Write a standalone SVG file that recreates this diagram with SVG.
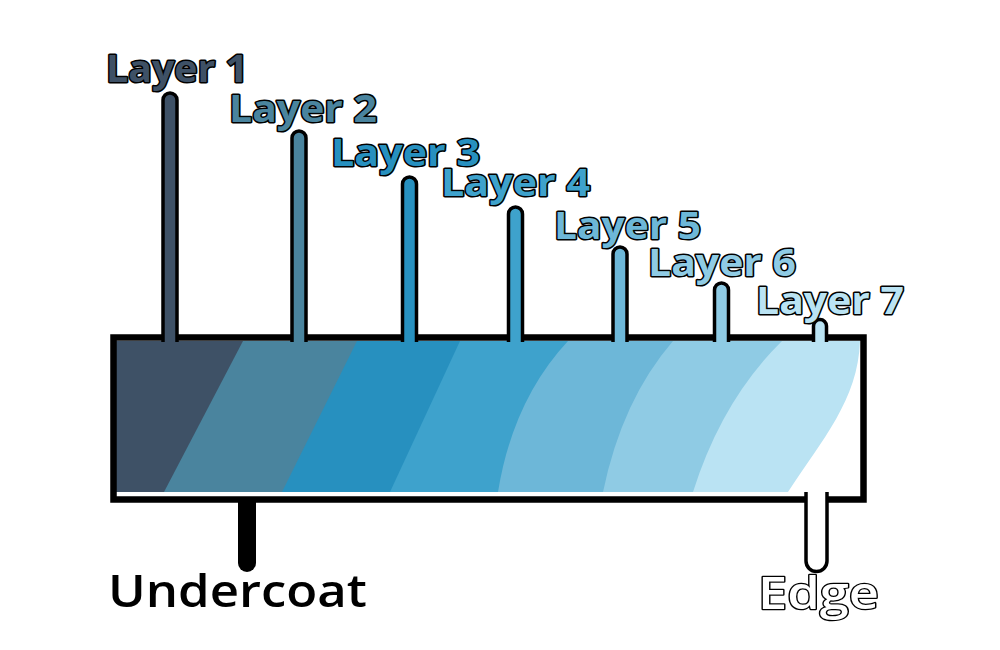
<svg xmlns="http://www.w3.org/2000/svg" width="1000" height="650" viewBox="0 0 1000 650">
<style>
.lbl{font-family:"Open Sans","Liberation Sans",sans-serif;font-weight:700;font-size:38px;stroke:#000;stroke-width:3;paint-order:stroke;stroke-linejoin:round}
.stem{stroke:#000;stroke-width:3.5}
.c1{fill:#3E5166}.c2{fill:#4A849E}.c3{fill:#2790BF}.c4{fill:#3EA2CC}.c5{fill:#6DB7D8}.c6{fill:#8FCBE4}.c7{fill:#BAE3F3}
</style>
<rect width="1000" height="650" fill="#fff"/>
<g id="bar">
<path class="c7" d="M116,341 H860 C858,400 822,440 788,492 H116 Z"/>
<path class="c6" d="M116,341 H782 Q722,400 693,492 H116 Z"/>
<path class="c5" d="M116,341 H673 Q622,400 603,492 H116 Z"/>
<path class="c4" d="M116,341 H568 Q513,400 498,492 H116 Z"/>
<path class="c3" d="M116,341 H460 L390,492 H116 Z"/>
<path class="c2" d="M116,341 H357 L282,492 H116 Z"/>
<path class="c1" d="M116,341 H243 L164,492 H116 Z"/>
<rect x="113.5" y="337.5" width="750" height="162" fill="none" stroke="#000" stroke-width="6.5"/>
</g>
<g id="connectors">
<path class="stem c1" d="M163,342 V100 A7,7 0 0 1 177,100 V342"/>
<path class="stem c2" d="M292,342 V138 A7,7 0 0 1 306,138 V342"/>
<path class="stem c3" d="M402.5,342 V184 A7,7 0 0 1 416.5,184 V342"/>
<path class="stem c4" d="M508.5,342 V214 A7,7 0 0 1 522.5,214 V342"/>
<path class="stem c5" d="M613,342 V254 A7,7 0 0 1 627,254 V342"/>
<path class="stem c6" d="M714.5,342 V290 A7,7 0 0 1 728.5,290 V342"/>
<path class="stem c7" d="M813.5,342 V326 A6.5,6.5 0 0 1 826.5,326 V342"/>
<path d="M238,500 V563 A9,9 0 0 0 256,563 V500 Z" fill="#000"/>
<path class="stem" fill="#fff" d="M806,492 V561 A10.5,10.5 0 0 0 827,561 V492"/>
</g>
<g id="layer1"><text class="lbl c1" x="106" y="82" textLength="142" lengthAdjust="spacingAndGlyphs">Layer 1</text></g>
<g id="layer2"><text class="lbl c2" x="229" y="122" textLength="148" lengthAdjust="spacingAndGlyphs">Layer 2</text></g>
<g id="layer3"><text class="lbl c3" x="331" y="166" textLength="149" lengthAdjust="spacingAndGlyphs">Layer 3</text></g>
<g id="layer4"><text class="lbl c4" x="441" y="196" textLength="149" lengthAdjust="spacingAndGlyphs">Layer 4</text></g>
<g id="layer5"><text class="lbl c5" x="554" y="239" textLength="147" lengthAdjust="spacingAndGlyphs">Layer 5</text></g>
<g id="layer6"><text class="lbl c6" x="648" y="276" textLength="148" lengthAdjust="spacingAndGlyphs">Layer 6</text></g>
<g id="layer7"><text class="lbl c7" x="756" y="314" textLength="148" lengthAdjust="spacingAndGlyphs">Layer 7</text></g>
<g id="undercoat"><text x="108" y="607" font-family="'Open Sans','Liberation Sans',sans-serif" font-weight="600" font-size="46" fill="#000" textLength="259" lengthAdjust="spacingAndGlyphs">Undercoat</text></g>
<g id="edge"><text x="758" y="609" font-family="'Open Sans','Liberation Sans',sans-serif" font-weight="600" font-size="45" fill="#fff" stroke="#000" stroke-width="2.5" paint-order="stroke" stroke-linejoin="round" textLength="121" lengthAdjust="spacingAndGlyphs">Edge</text></g>
</svg>
